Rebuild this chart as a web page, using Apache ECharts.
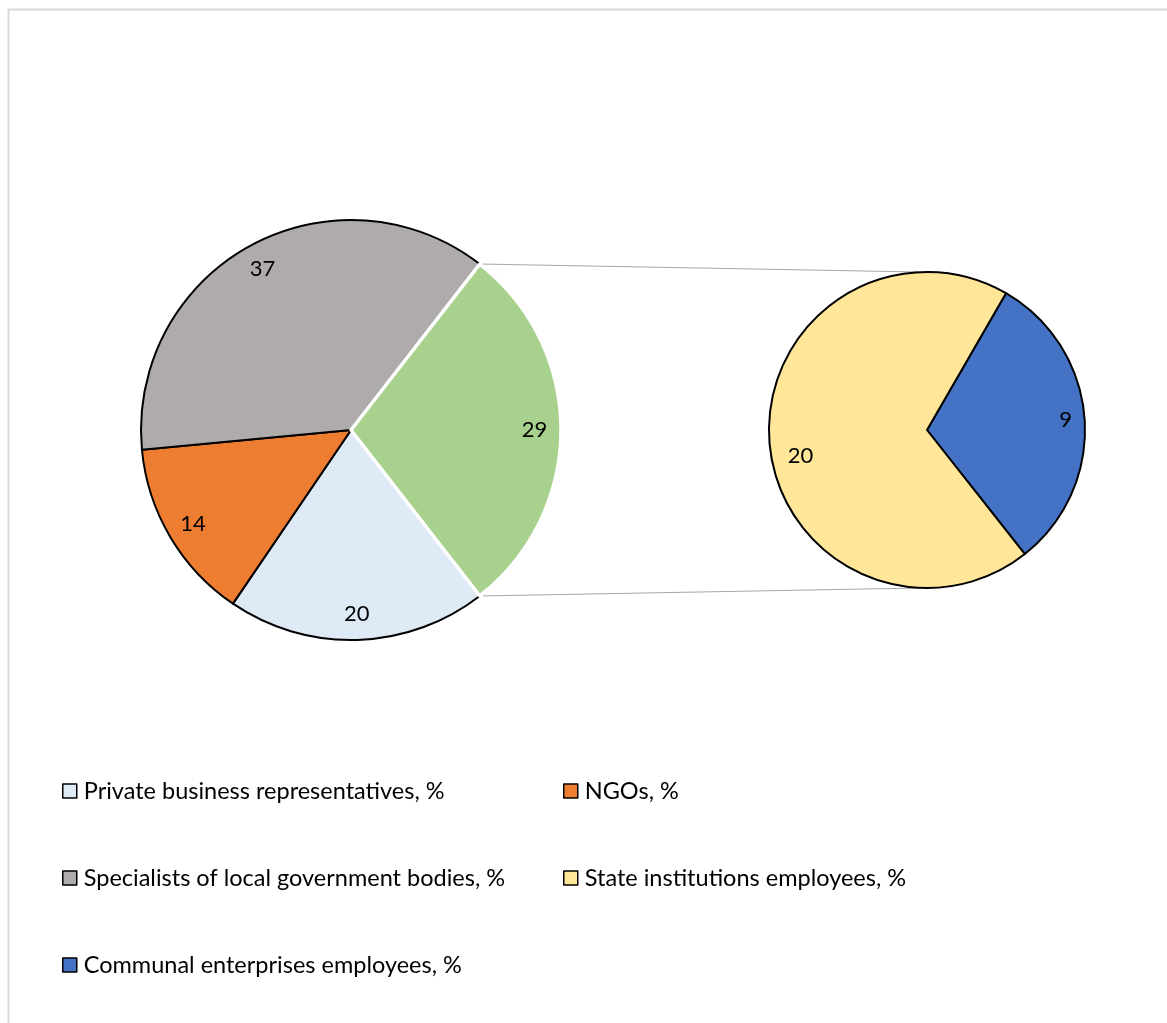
<!DOCTYPE html>
<html>
<head>
<meta charset="utf-8">
<title>Pie of pie</title>
<script src="https://cdn.jsdelivr.net/npm/echarts@6/dist/echarts.min.js"></script>
<style>
    html, body { margin: 0; padding: 0; background: #fff; }
    #chart { width: 1167px; height: 1023px; }
</style>
</head>
<body>
<div id="chart"></div>
<script>
"use strict";

// main pie, clockwise starting from the "other" slice
var mainNames = ['Other', 'Private business representatives, %', 'NGOs, %', 'Specialists of local government bodies, %'];
var mainValues = [29, 20, 14, 37];
var mainColors = ['#A9D18E', '#DEEBF7', '#ED7D31', '#AFABAB'];

// secondary pie (breakdown of "Other")
var subNames = ['Communal enterprises employees, %', 'State institutions employees, %'];
var subValues = [9, 20];
var subColors = ['#4472C4', '#FFE699'];

// legend columns
var legendLeft = ['Private business representatives, %', 'Specialists of local government bodies, %', 'Communal enterprises employees, %'];
var legendRight = ['NGOs, %', 'State institutions employees, %'];

(function (win) {
    var FONT = 'Lato, "Liberation Sans", sans-serif';
    var MAIN_C = [351, 430], MAIN_R = 210;
    var SUB_C = [927, 430], SUB_R = 158;
    var mainStart = mainValues[0] / 2 / 100 * 360;   // other slice centred on 3 o'clock
    var subStart = 60;

    var chart = echarts.init(document.getElementById('chart'));

    function buildData(names, values, colors) {
        var out = [];
        for (var i = 0, len = names.length; i < len; i++) {
            out.push({
                name: names[i],
                value: values[i],
                itemStyle: {color: colors[i], borderColor: '#000', borderWidth: 2}
            });
        }
        return out;
    }

    // same slices again, only the "other" one visible, with a white edge on top of the black ones
    function otherOnTop(names, values, colors) {
        var out = [];
        for (var i = 0, len = names.length; i < len; i++) {
            out.push({
                name: names[i],
                value: values[i],
                itemStyle: i === 0
                    ? {color: colors[i], borderColor: '#fff', borderWidth: 3.5}
                    : {color: 'rgba(0,0,0,0)', borderWidth: 0}
            });
        }
        return out;
    }

    // transparent ring only used to place the value labels near the rim
    function labelRing(names, values, center, r, start, extra) {
        var d = [];
        for (var i = 0; i < names.length; i++) {
            var item = {name: names[i], value: values[i]};
            if (extra && extra[i]) item.label = extra[i];
            d.push(item);
        }
        return {
            type: 'pie',
            silent: true,
            center: center,
            radius: [r * 0.72, r],
            startAngle: start,
            itemStyle: {color: 'rgba(0,0,0,0)', borderWidth: 0},
            label: {
                show: true,
                position: 'inside',
                formatter: '{c}',
                color: '#000',
                fontSize: 22,
                fontFamily: FONT
            },
            labelLine: {show: false},
            data: d
        };
    }

    // connector lines from the edges of the "other" slice to the secondary pie
    var a = mainStart * Math.PI / 180;
    var x1 = MAIN_C[0] + MAIN_R * Math.cos(a) + 3;
    var yTop = MAIN_C[1] - MAIN_R * Math.sin(a);
    var yBot = MAIN_C[1] + MAIN_R * Math.sin(a);

    var legendBase = {
        orient: 'vertical',
        top: 774,
        itemWidth: 14,
        itemHeight: 14,
        itemGap: 63,
        icon: 'rect',
        selectedMode: false,
        itemStyle: {borderColor: '#000', borderWidth: 1.5},
        textStyle: {fontSize: 23.5, lineHeight: 24, color: '#000', fontFamily: FONT, padding: [0, 0, 0, 2]}
    };

    var option = {
        backgroundColor: '#fff',
        animation: false,
        legend: [
            Object.assign({}, legendBase, {left: 57, data: legendLeft}),
            Object.assign({}, legendBase, {left: 558, data: legendRight})
        ],
        graphic: [
            {
                type: 'rect', silent: true,
                shape: {x: 8.5, y: 9.5, width: 1300, height: 1200},
                style: {fill: null, stroke: '#D9D9D9', lineWidth: 2}
            },
            {
                type: 'line', silent: true,
                shape: {x1: x1, y1: yTop, x2: SUB_C[0] - 8, y2: SUB_C[1] - SUB_R},
                style: {stroke: '#A6A6A6', lineWidth: 1}
            },
            {
                type: 'line', silent: true,
                shape: {x1: x1, y1: yBot, x2: SUB_C[0] - 8, y2: SUB_C[1] + SUB_R},
                style: {stroke: '#A6A6A6', lineWidth: 1}
            }
        ],
        series: [
            {
                type: 'pie',
                center: MAIN_C,
                radius: [0, MAIN_R],
                startAngle: mainStart,
                label: {show: false},
                labelLine: {show: false},
                emphasis: {disabled: true},
                data: buildData(mainNames, mainValues, mainColors)
            },
            {
                type: 'pie',
                center: SUB_C,
                radius: [0, SUB_R],
                startAngle: subStart,
                label: {show: false},
                labelLine: {show: false},
                emphasis: {disabled: true},
                data: buildData(subNames, subValues, subColors)
            },
            {
                type: 'pie',
                silent: true,
                center: MAIN_C,
                radius: [0, MAIN_R],
                startAngle: mainStart,
                label: {show: false},
                labelLine: {show: false},
                data: otherOnTop(mainNames, mainValues, mainColors)
            },
            labelRing(mainNames, mainValues, MAIN_C, MAIN_R, mainStart),
            labelRing(subNames, subValues, SUB_C, SUB_R, subStart, [null, {offset: [12, 16]}])
        ]
    };

    chart.setOption(option, true);
})(window);
</script>
</body>
</html>
